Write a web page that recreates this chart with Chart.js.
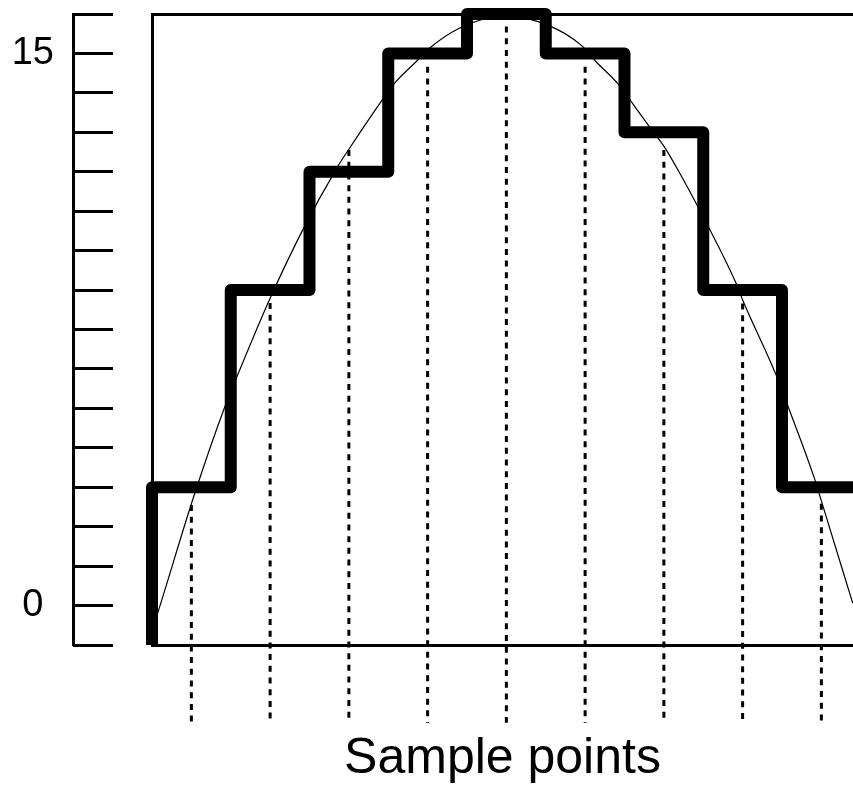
<!DOCTYPE html>
<html>
<head>
<meta charset="utf-8">
<script src="https://cdn.jsdelivr.net/npm/chart.js@4/dist/chart.umd.min.js"></script>
<style>
  html, body { margin: 0; padding: 0; background: #fff; }
  #c { display: block; }
</style>
</head>
<body>
<canvas id="c" width="853" height="789"></canvas>
<script>
// ---- data ----
const sampleIndex  = [0, 1, 2, 3, 4, 5, 6, 7, 8];
const sampleLevels = [4, 9, 12, 15, 16, 15, 13, 9, 4];           // quantized level held over each sample period
const sampleValues = [3.55, 8.67, 12.55, 14.66, 15.68, 14.66, 12.55, 8.66, 3.58]; // tops of dashed sample lines
const dropBottom   = -1.97;                                        // where the dashed lines end

const curveX = [-0.5, -0.428, 0.029, 0.419, 0.588, 0.990, 1.413, 1.858, 2.006, 2.409, 2.578, 2.853, 3.022, 3.403, 4.0,
                4.568, 4.949, 5.139, 5.413, 5.604, 5.816, 6.006, 6.239, 6.409, 6.917, 7.0, 7.425, 7.594, 7.911, 7.996, 8.398];
const curveY = [0.37, 0.81, 3.76, 6.01, 6.85, 8.75, 10.52, 12.13, 12.59, 13.78, 14.24, 14.79, 15.13, 15.64, 15.95,
                15.68, 15.21, 14.79, 14.24, 13.73, 13.14, 12.63, 11.83, 11.20, 9.17, 8.75, 6.85, 5.96, 4.23, 3.68, 1.06];

const yTickValues = [0, 1, 2, 3, 4, 5, 6, 7, 8, 9, 10, 11, 12, 13, 14, 15, 16];
const yTickLabels = ['', '0', '', '', '', '', '', '', '', '', '', '', '', '', '', '15', ''];
const xTitle = 'Sample points';

const X_MIN = -0.5, X_MAX = 8.4016, Y_MIN = 0, Y_MAX = 16;

// ---- build datasets ----
const stepPts = [{x: sampleIndex[0] - 0.5, y: 0}];
sampleIndex.forEach((s, i) => stepPts.push({x: s - 0.5, y: sampleLevels[i]}));
stepPts.push({x: sampleIndex[sampleIndex.length - 1] + 0.5, y: sampleLevels[sampleLevels.length - 1]});

const datasets = [
  {
    data: stepPts, stepped: 'before', borderColor: '#000', borderWidth: 12,
    borderJoinStyle: 'round', borderCapStyle: 'butt', pointRadius: 0, fill: false, clip: false
  },
  {
    data: curveX.map((x, i) => ({x, y: curveY[i]})), borderColor: '#000', borderWidth: 1.2,
    cubicInterpolationMode: 'monotone', pointRadius: 0, fill: false
  }
];
sampleIndex.forEach((s, i) => {
  datasets.push({
    data: [{x: s, y: sampleValues[i]}, {x: s, y: dropBottom}],
    borderColor: '#000', borderWidth: 3, borderDash: [6, 5.7], borderCapStyle: 'butt',
    pointRadius: 0, fill: false, clip: false
  });
});

const noGrid = {drawOnChartArea: false, drawTicks: false};
const blackBorder = {display: true, width: 3, color: '#000'};
const setTicks = s => { s.ticks = yTickValues.map(v => ({value: v})); };

new Chart(document.getElementById('c'), {
  type: 'line',
  data: {datasets},
  options: {
    responsive: false,
    animation: false,
    devicePixelRatio: 1,
    layout: {padding: {left: 0, right: 0, top: 14, bottom: 0}},
    plugins: {legend: {display: false}, tooltip: {enabled: false}},
    scales: {
      x: {
        type: 'linear', position: 'bottom', min: X_MIN, max: X_MAX,
        grid: noGrid, border: blackBorder, ticks: {display: false},
        title: {display: true, text: xTitle, color: '#000',
                font: {family: 'Liberation Sans, Arial, sans-serif', size: 50},
                padding: {top: 84, bottom: 0}}
      },
      xt: {
        type: 'linear', position: 'top', min: X_MIN, max: X_MAX,
        grid: noGrid, border: blackBorder, ticks: {display: false}
      },
      y: {
        type: 'linear', position: 'left', weight: 0, min: Y_MIN, max: Y_MAX,
        afterBuildTicks: setTicks,
        ticks: {display: false, autoSkip: false},
        grid: {drawOnChartArea: false, drawTicks: true, tickLength: 79, tickWidth: 3,
               tickColor: '#000', tickBorderDash: [40, 300]},
        border: blackBorder
      },
      yl: {
        type: 'linear', position: 'left', weight: 1, min: Y_MIN, max: Y_MAX,
        afterBuildTicks: setTicks,
        afterFit: s => { s.width = 73; s.paddingTop = 0; s.paddingBottom = 0; },
        ticks: {autoSkip: false, crossAlign: 'center', padding: 19, color: '#000',
                font: {family: 'Liberation Sans, Arial, sans-serif', size: 38},
                callback: (v, i) => yTickLabels[i]},
        grid: noGrid,
        border: blackBorder
      }
    }
  }
});
</script>
</body>
</html>
